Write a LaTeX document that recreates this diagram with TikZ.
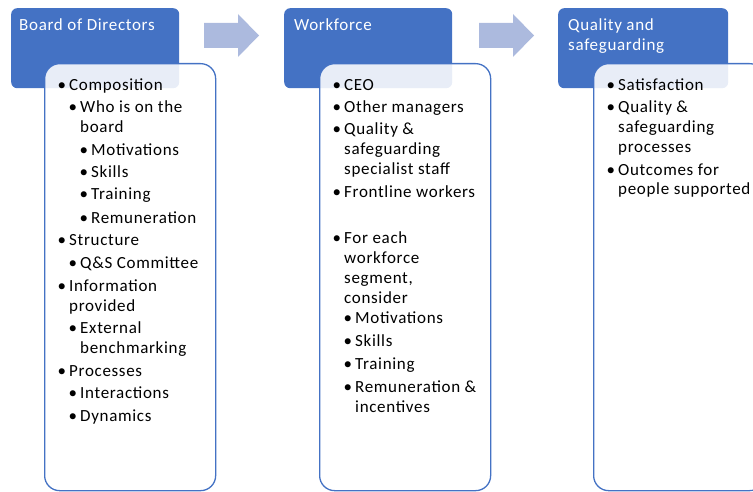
\documentclass[tikz,border=0pt]{standalone}
\usepackage{fontspec}
\setmainfont[LetterSpace=4]{Carlito}
\usetikzlibrary{positioning}
\definecolor{hdblue}{RGB}{68,114,196}
\definecolor{arrblue}{RGB}{172,186,222}
\newcommand{\bulletmark}{\llap{\textbullet\hspace{3pt}}}
\tikzset{
  head/.style={rectangle, rounded corners=6pt, fill=hdblue, anchor=north west,
    minimum width=168pt, minimum height=80pt, inner sep=0pt},
  htext/.style={anchor=base west, text=white, align=left, inner sep=0pt},
  panel/.style={rectangle, rounded corners=15pt, draw=hdblue, line width=1.3pt,
    fill=white, fill opacity=0.88, anchor=north west,
    minimum width=171pt, minimum height=427pt, inner sep=0pt},
  item/.style={anchor=base west, align=left, inner sep=0pt},
  arrow/.style={fill=arrblue}
}

\begin{document}
\begin{tikzpicture}[x=1pt, y=-1pt, font=\fontsize{17}{20}\selectfont]
\useasboundingbox (0,0) rectangle (753,492);

% header boxes
\node [head] (a) at (11,8) {};
\node [head] (b) at (284,8) {};
\node [head, minimum width=170pt] (d) at (558,8) {};

% (base west sits on the last line of a wrapped text)
\node [htext] (ah) at (19,31) {Board of Directors};
\node [htext] (bh) at (294,31) {Workforce};
\node [htext] (dh) at (568,51) {Quality and\\safeguarding};

% arrows between the columns
\fill [arrow] (204,23) -- (238,23) -- (238,14) -- (259,35.5) -- (238,57) -- (238,48) -- (204,48) -- cycle;
\fill [arrow] (479,23) -- (513,23) -- (513,14) -- (534,35.5) -- (513,57) -- (513,48) -- (479,48) -- cycle;

% list panels
\node [panel] (a1) at (44,63) {};
\node [panel] (b1) at (319,63) {};
\node [panel] (d1) at (593,63) {};

% board
\node [item] (a11) at (69,91) {\bulletmark Composition};
\node [item] (a12) at (80,133) {\bulletmark Who is on the\\board};
\node [item] (a13) at (91,156) {\bulletmark Motivations};
\node [item] (a14) at (91,178) {\bulletmark Skills};
\node [item] (a15) at (91,200) {\bulletmark Training};
\node [item] (a16) at (91,223) {\bulletmark Remuneration};
\node [item] (a17) at (69,245) {\bulletmark Structure};
\node [item] (a18) at (80,268) {\bulletmark Q\&S Committee};
\node [item] (a19) at (69,311) {\bulletmark Information\\provided};
\node [item] (a20) at (80,353) {\bulletmark External\\benchmarking};
\node [item] (a21) at (69,376) {\bulletmark Processes};
\node [item] (a22) at (80,398) {\bulletmark Interactions};
\node [item] (a23) at (80,421) {\bulletmark Dynamics};

% workforce
\node [item] (b11) at (344,91) {\bulletmark CEO};
\node [item] (b12) at (344,113) {\bulletmark Other managers};
\node [item] (b13) at (344,175) {\bulletmark Quality \&\\safeguarding\\specialist staff};
\node [item] (b14) at (344,197) {\bulletmark Frontline workers};
\node [item] (b15) at (344,303) {\bulletmark For each\\workforce\\segment,\\consider};
\node [item] (b16) at (355,323) {\bulletmark Motivations};
\node [item] (b17) at (355,346) {\bulletmark Skills};
\node [item] (b18) at (355,369) {\bulletmark Training};
\node [item] (b19) at (355,412) {\bulletmark Remuneration \&\\incentives};

% quality and safeguarding
\node [item] (d11) at (618,91) {\bulletmark Satisfaction};
\node [item] (d12) at (618,153) {\bulletmark Quality \&\\safeguarding\\processes};
\node [item] (d13) at (618,195) {\bulletmark Outcomes for\\people supported};

\end{tikzpicture}
\end{document}
